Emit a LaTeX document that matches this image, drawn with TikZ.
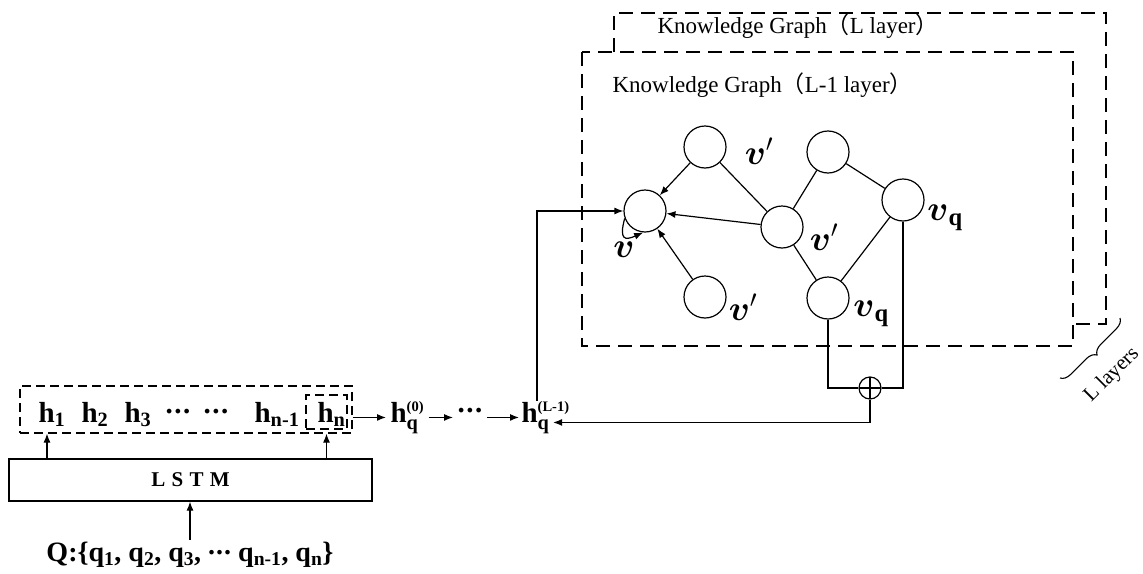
\RequirePackage{fix-cm}
\documentclass[tikz,border=0pt]{standalone}
\usepackage{amsmath,amssymb,mathtools}
\usepackage{fontspec}
\setmainfont{Liberation Serif}
\newfontfamily\cjk{Noto Sans CJK SC}
\usetikzlibrary{arrows.meta,decorations.pathreplacing,calc}
\newcommand{\fsz}[1]{\fontsize{#1}{#1}\selectfont}
\begin{document}
\begin{tikzpicture}[x=1pt,y=-1pt,
  line width=1.2pt,
  every node/.style={inner sep=0pt},
  arr/.style={-{Latex[length=9pt,width=7pt]}},
  knode/.style={circle,draw,minimum size=42pt,line width=1.2pt},
  kgdash/.style={dash pattern=on 14pt off 8pt, line width=1.5pt},
  hdash/.style={dash pattern=on 9pt off 5pt, line width=1.2pt},
  htxt/.style={font=\fsz{29}\bfseries, anchor=base west},
  vlab/.style={font=\fsz{35}},
  kgtxt/.style={font=\fsz{23}, anchor=base west},
]
\useasboundingbox (0,0) rectangle (1143,573);

% knowledge graph boxes
\draw[kgdash] (614,52) -- (614,13) -- (1106,13) -- (1106,324) -- (1073,324);
\draw[kgdash] (582,52) rectangle (1073,346);
\node[kgtxt] (kgL) at (657,33) {Knowledge Graph{\cjk （}L layer{\cjk ）}};
\node[kgtxt] (kgLm) at (612,92) {Knowledge Graph{\cjk （}L-1 layer{\cjk ）}};

% brace
\draw[line width=1.1pt,decorate,decoration={brace,amplitude=10pt}] (1120,318) -- (1060,378);
\node[font=\fsz{21},rotate=45] (llayers) at (1112,375) {L layers};

% graph nodes
\node[knode] (v) at (645,211) {};
\node[knode] (vpa) at (705,147) {};
\node[knode] (vpb) at (705,297) {};
\node[knode] (vpc) at (782,227) {};
\node[knode] (tr) at (828,152) {};
\node[knode] (vqr) at (903,200) {};
\node[knode] (vqb) at (828,298) {};

\node[vlab] (lv) at (624,250) {$\boldsymbol{v}$};
\node[vlab] (lvpa) at (759,151) {$\boldsymbol{v}'$};
\node[vlab] (lvpc) at (824,237) {$\boldsymbol{v}'$};
\node[vlab] (lvpb) at (743,307) {$\boldsymbol{v}'$};
\node[vlab] (lvqr) at (945,218) {$\boldsymbol{v}_{\textbf{q}}$};
\node[vlab] (lvqb) at (871,314) {$\boldsymbol{v}_{\textbf{q}}$};

\draw[arr] (vpa) -- (v);
\draw[arr] (vpc) -- (v);
\draw[arr] (vpb) -- (v);
\draw (vpa) -- (vpc);
\draw (vpc) -- (tr);
\draw (tr) -- (vqr);
\draw (vpc) -- (vqb);
\draw (vqb) -- (vqr);
\draw[arr] (v.200) .. controls +(-6,22) and +(-18,8) .. (v.265);

% aggregation
\node[circle,draw,minimum size=22pt,
  path picture={\draw (path picture bounding box.north) -- (path picture bounding box.south)
                       (path picture bounding box.west) -- (path picture bounding box.east);}] (plus) at (870,388) {};
\draw (vqb.south) |- (plus.west);
\draw (vqr.south) |- (plus.east);

% left part
\node[draw,hdash,minimum width=332pt,minimum height=47pt] (hbox) at (186,409.5) {};
\node[draw,hdash,minimum width=41pt,minimum height=34pt] (hnbox) at (326.5,412) {};
\node[draw,minimum width=363pt,minimum height=42pt,font=\fsz{21}\bfseries] (lstm) at (190.5,480)
  {L\hspace{0.3em}S\hspace{0.3em}T\hspace{0.3em}M};

\node[htxt] (h1) at (38,422) {h\textsubscript{1}};
\node[htxt] (h2) at (81,422) {h\textsubscript{2}};
\node[htxt] (h3) at (124,422) {h\textsubscript{3}};
\node[htxt] (d1) at (165,422) {\raisebox{0.3em}{.\hspace{1.5pt}.\hspace{1.5pt}.}};
\node[htxt] (d2) at (203,422) {\raisebox{0.3em}{.\hspace{1.5pt}.\hspace{1.5pt}.}};
\node[htxt] (hnm) at (254,422) {h\textsubscript{n-1}};
\node[htxt] (hn) at (317,422) {h\textsubscript{n}};

\node[htxt] (hq0) at (390,422) {h$_{\textbf{q}}^{\scriptscriptstyle\textbf{(0)}}$};
\node[font=\fsz{29}\bfseries] (dq) at (470,411) {.\hspace{1.5pt}.\hspace{1.5pt}.};
\node[htxt] (hqL) at (521,422) {h$_{\textbf{q}}^{\mathrlap{\scriptscriptstyle\textbf{(L-1)}}}$};

\node[font=\fsz{28}\bfseries] (q) at (190,555)
  {Q:\{q\textsubscript{1}, q\textsubscript{2}, q\textsubscript{3}, \raisebox{0.25em}{.\hspace{1pt}.\hspace{1pt}.} q\textsubscript{n-1}, q\textsubscript{n}\}};

\coordinate (c47) at (47,0);
\coordinate (c537) at (537,0);
\draw[arr] (lstm.north -| c47) -- (hbox.south -| c47);
\draw[arr] (lstm.north -| hnbox.south) -- (hbox.south -| hnbox.south);
\draw[arr,shorten <=2pt] (q.north) -- (lstm.south -| q.north);

\draw[arr,shorten >=4pt] (hbox.east |- hq0.west) -- (hq0.west);
\draw[arr,shorten <=4pt,shorten >=4pt] (hq0.east) -- (hq0.east -| dq.west);
\draw[arr,shorten <=4pt,shorten >=2pt] (dq.east |- hq0.east) -- (hq0.east -| hqL.west);
\draw[arr] (plus.south) |- ($(hqL.east)+(3,5)$);
\draw[arr] (hqL.north -| c537) |- (v.west);
\end{tikzpicture}
\end{document}
